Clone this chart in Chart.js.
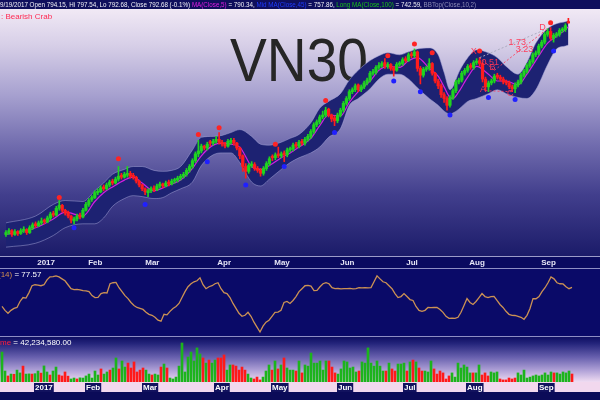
<!DOCTYPE html>
<html>
<head>
<meta charset="utf-8">
<script src="https://cdn.jsdelivr.net/npm/chart.js@4.4.1/dist/chart.umd.min.js"></script>
<style>
html, body { margin:0; padding:0; width:600px; height:400px; overflow:hidden; background:#0c0c58; }
.abs { position:absolute; }
#hdr { left:0; top:0; width:600px; height:9px; background:#0f0f5c; overflow:hidden; z-index:5; }
#hdrText { position:absolute; left:0; top:0; font:8px "Liberation Sans", Arial, sans-serif; line-height:9px; white-space:nowrap; color:#f2f2f8; transform-origin:0 0; }
#mainBg { left:0; top:9px; width:600px; height:247px; background:linear-gradient(to bottom,#f1e9f5 0%,#d6cee7 15%,#a6a0cf 35%,#716cae 55%,#423f8d 75%,#1b1b69 100%); }
#strip { left:0; top:256px; width:600px; height:13px; background:#0a0a60; border-top:1px solid #9c9cc8; border-bottom:1px solid #8e8ec4; box-sizing:border-box; }
#oscBg { left:0; top:269px; width:600px; height:67px; background:#0a0a68; }
#volBg { left:0; top:336px; width:600px; height:46px; background:linear-gradient(to bottom,#0e0e62 0%,#25257c 15%,#6860ae 45%,#b2a3d8 75%,#f0dcf2 100%); border-top:1px solid #8e8ec4; box-sizing:border-box; }
#volAxisBg { left:0; top:382px; width:600px; height:10px; background:#f2d8ee; }
#bottomBg { left:0; top:392px; width:600px; height:8px; background:#0b0b58; }
#vn30 { left:230px; top:29px; font:62px "Liberation Sans", Arial, sans-serif; line-height:62px; color:#262626; transform:scaleX(0.89); transform-origin:0 0; white-space:nowrap; }
#crab { left:1px; top:12px; font:8px "Liberation Sans", Arial, sans-serif; line-height:10px; color:#ff2a52; white-space:nowrap; z-index:4; }
#oscLbl { left:-2px; top:270px; font:8px "Liberation Sans", Arial, sans-serif; line-height:9px; color:#ffffff; white-space:nowrap; z-index:4; }
#volLbl { left:0px; top:338px; font:8px "Liberation Sans", Arial, sans-serif; line-height:9px; color:#ffffff; white-space:nowrap; z-index:4; }
canvas { position:absolute; left:0; z-index:2; }
</style>
</head>
<body>
<div id="mainBg" class="abs"></div>
<div id="vn30" class="abs">VN30</div>
<div id="strip" class="abs"></div>
<div id="oscBg" class="abs"></div>
<div id="volBg" class="abs"></div>
<div id="volAxisBg" class="abs"></div>
<div id="bottomBg" class="abs"></div>
<div id="hdr" class="abs"><div id="hdrText"><span id="h1">9/19/2017 Open 794.15, Hi 797.54, Lo 792.68, Close 792.68 (-0.1%) </span><span style="color:#e21ee2">MA(Close,5)</span><span> = 790.34, </span><span style="color:#1e3cff">Mid MA(Close,45)</span><span> = 757.86, </span><span style="color:#18c418">Long MA(Close,100)</span><span> = 742.59, </span><span style="color:#8c8cb6">BBTop(Close,10,2)</span></div></div>
<div id="crab" class="abs">: Bearish Crab</div>
<div id="oscLbl" class="abs"><span style="color:#d49050">(14)</span> = 77.57</div>
<div id="volLbl" class="abs"><span style="color:#ff2040">me</span> = 42,234,580.00</div>
<canvas id="mainChart" width="600" height="247" style="top:9px"></canvas>
<canvas id="oscChart" width="600" height="80" style="top:256px"></canvas>
<canvas id="volChart" width="600" height="56" style="top:336px"></canvas>
<script>
// ---------- DATA ----------
const openP = [575,577,579,575,578,576,579,580,577,582,
586,584,587,590,588,592,597,595,602,605,
600,598,594,589,591,595,593,600,606,611,
613,618,619,624,622,626,630,628,632,636,
634,636,638,636,634,630,626,622,618,620,
623,621,625,627,625,629,627,630,631,633,
635,637,641,645,651,658,661,666,664,670,
669,671,673,670,668,666,670,672,669,664,
656,645,640,646,647,643,641,638,643,648,
655,654,658,656,659,657,662,663,668,666,
671,669,673,676,681,688,691,696,698,704,
698,695,692,698,703,710,715,722,724,729,
724,727,731,734,741,742,747,749,752,748,
750,746,744,750,751,756,754,761,759,763,
746,739,745,746,751,741,733,728,719,715,
708,716,723,732,734,741,744,749,747,752,
754,751,735,727,731,733,739,737,735,732,
731,727,725,729,732,739,743,749,753,760,
762,769,773,781,784,777,780,781,785,786,
794.15];
const closeP = [577,579,575,578,576,579,580,577,582,585,
584,587,589,588,592,596,595,602,605,600,
597,594,590,591,594,593,600,606,610,613,
618,619,623,622,626,629,628,632,635,634,
637,638,635,634,630,626,622,619,620,622,
621,625,627,625,628,627,630,631,633,635,
637,641,645,651,658,661,666,664,668,669,
671,673,670,668,666,671,672,669,664,656,
645,640,646,647,643,641,638,643,648,653,
654,657,656,658,657,662,663,667,666,670,
669,673,676,681,688,691,696,698,703,698,
694,692,698,703,710,715,722,724,728,724,
727,731,734,741,742,747,749,751,748,750,
746,744,750,751,755,754,760,759,763,746,
739,745,746,751,741,733,728,719,715,708,
716,723,732,734,741,744,748,747,752,753,
751,735,727,731,733,738,737,735,732,731,
727,725,729,732,739,743,749,753,760,762,
769,773,781,784,777,780,781,785,786,790,
792.68];
const highP = [579,581,580,580,579,581,583,581,584,587,
588,589,592,591,594,598,599,604,610,606,
601,599,595,593,596,597,602,608,612,615,
620,622,625,626,628,631,632,634,645,638,
639,645,640,638,635,631,627,623,622,624,
625,627,629,628,630,631,632,633,635,637,
639,643,647,653,660,672,668,667,670,672,
673,676,680,672,670,673,674,674,670,665,
657,648,648,650,649,645,643,645,650,655,
657,659,665,660,661,664,665,669,670,672,
673,675,678,683,690,693,698,702,706,705,
699,697,700,705,712,717,724,726,730,730,
729,733,736,743,745,749,752,753,756,752,
751,748,752,753,757,758,762,763,766,764,
748,747,748,756,752,742,735,730,721,717,
718,725,734,736,743,746,750,751,754,756,
757,752,737,733,735,740,741,739,737,734,
733,729,731,734,741,745,751,755,762,764,
771,775,783,787,788,782,783,787,788,792,
797.54];
const lowP = [573,575,573,574,574,575,577,575,576,580,
582,583,585,586,587,590,593,594,600,598,
595,592,587,586,589,591,592,599,604,609,
612,616,618,620,621,624,626,627,630,632,
633,634,633,632,628,624,620,616,614,618,
619,620,623,623,624,625,626,628,629,631,
633,635,639,643,649,655,659,662,662,666,
667,669,668,666,664,665,668,667,662,653,
640,633,638,644,641,639,635,636,641,646,
651,652,654,654,650,655,660,661,664,664,
667,667,671,674,679,686,689,694,696,696,
691,687,690,696,701,708,713,720,722,722,
722,725,729,732,739,740,745,747,746,746,
744,738,743,748,749,752,753,757,757,743,
730,737,743,744,739,731,725,716,711,703,
706,714,721,730,732,739,742,745,745,750,
748,732,723,722,729,731,735,733,730,729,
725,722,721,727,730,737,741,747,751,758,
760,767,771,779,775,773,778,779,783,784,
792.68];
// volume, millions of shares
const volumeM = [158,58,32,42,41,63,48,84,42,43,
42,44,58,47,85,53,37,58,79,37,
32,53,31,16,21,16,22,21,32,42,
21,58,37,69,42,53,63,74,127,69,
111,79,100,74,106,53,63,74,63,42,
37,42,37,79,95,74,21,16,26,84,
206,53,132,158,111,180,148,127,100,116,
100,116,127,127,143,63,90,90,84,63,
79,63,42,21,16,26,11,26,58,90,
63,111,69,90,127,74,63,63,58,111,
48,90,84,153,100,100,111,63,111,111,
79,48,42,69,111,106,74,79,53,58,
106,100,180,100,84,111,84,58,58,100,
69,58,95,95,100,58,106,116,106,74,
58,58,53,111,69,42,58,48,16,32,
48,26,100,74,90,79,48,48,48,90,
37,48,32,53,48,53,16,11,11,21,
16,21,48,37,63,21,26,32,37,32,
37,48,37,53,48,48,42,53,48,58,
42.23];
// oscillator (14)
const oscVals = [48.8,42.9,38.4,42.9,45.8,47.3,56.3,62.2,61.5,69.7,
80.1,81.6,81.0,80.1,81.6,89.0,93.5,94.0,95.0,93.5,
90.5,87.6,81.6,75.6,74.1,74.5,73.8,72.7,72.2,71.2,
65.2,62.2,62.5,68.2,69.7,69.2,83.1,84.6,85.2,77.1,
71.2,65.2,60.7,54.8,50.3,47.3,45.8,44.3,39.9,36.9,
35.4,32.4,28.0,26.5,36.9,36.0,41.4,45.8,48.8,53.3,
62.2,71.2,78.6,83.1,86.1,87.6,92.0,81.6,75.6,78.6,
80.1,83.1,84.6,75.6,69.7,68.2,62.2,53.3,45.8,38.4,
33.9,35.4,39.9,33.9,25.0,17.5,10.1,19.0,25.0,28.0,
33.9,39.9,40.3,42.9,54.8,56.3,53.3,57.8,63.7,71.2,
75.6,80.1,80.6,79.5,72.7,73.1,78.6,83.1,84.6,83.1,
77.1,75.6,75.9,75.4,75.8,75.6,76.0,75.5,75.7,77.1,
76.8,77.3,77.0,77.2,86.1,95.0,90.5,86.1,84.6,80.1,
75.6,68.2,62.2,63.7,68.2,63.7,59.2,57.8,48.8,42.9,
41.4,42.9,47.3,47.0,47.5,47.2,44.3,39.9,33.9,30.9,
31.2,30.7,32.4,39.9,50.3,60.7,54.8,51.8,56.3,62.2,
68.2,63.7,62.2,63.7,64.1,57.8,51.8,47.3,41.4,36.9,
35.4,35.1,33.9,32.4,29.4,35.4,45.8,60.7,60.4,63.7,
71.2,77.1,84.6,93.5,90.5,84.6,83.1,82.8,78.6,75.6,
77.57];
// envelope / moving average, sampled at these bar numbers
const bandIdx = [0,10,16,20,26,30,33,36,40,43,46,50,53,56,59,63,66,70,73,76,79,83,86,89,93,96,99,103,106,109,113,116,119,123,126,129,133,136,139,143,146,148,150,151,153,156,159,163,166,169,173,176,179,183,186,189,190];
const bbTopVals = [587,594,606,610,609,620,628,637,642,645,645,641,640,641,645,662,675,676,677,680,683,676,668,667,670,674,678,690,705,712,720,734,744,754,759,762,760,763,766,767,760,742,724,727,742,757,765,762,757,748,740,752,772,787,792,794,795];
const bbBotVals = [562,566,574,582,586,586,592,604,612,615,614,612,613,618,622,629,646,657,659,659,649,629,625,632,642,649,654,659,665,675,684,708,715,725,735,740,740,735,726,715,708,702,699,700,704,712,715,720,724,720,716,715,724,750,766,769,770];
const maVals = [575,582,591,598,594,609,618,624,631,634,628,620,623,627,631,643,656,667,669,668,665,645,642,646,654,659,665,674,687,698,697,711,722,733,744,748,747,754,757,746,738,727,716,715,722,737,748,740,733,733,729,740,754,772,779,786,789];
// fractal markers
const fracHighIdx = [18,38,65,72,91,108,129,138,144,160,184];
const fracHighVal = [613,653,678,685,668,713,759,771,762,764,793];
const fracLowIdx = [23,47,68,81,94,111,131,140,150,163,172,185];
const fracLowVal = [582,606,650,626,645,680,733,722,698,716,714,764];
// month ticks
const monthTickIdx = [11,28,47,71,90,112,134,155,179];
const monthTickLabels = ['2017','Feb','Mar','Apr','May','Jun','Jul','Aug','Sep'];
// harmonic pattern (X, A, B, C, D)
const patternPtIdx = [160,162,165,171,183];
const patternPtVal = [757,723,744,722,787];
const patternLegs = [[0,4,'gray'],[2,4,'red'],[1,3,'red'],[0,2,'red']];
const patternLabelText = ['X','A','B','C','D','0.51','1.73','3.23'];
const patternLabelIdx = [158.0,161.2,164.4,170.4,181.3,163.6,172.7,175.2];
const patternLabelVal = [763,724,747,720,788,752,773,765];

// ---------- CHARTS ----------
Chart.defaults.animation = false;
Chart.defaults.font.family = '"Liberation Sans", Arial, sans-serif';
Chart.defaults.plugins.legend.display = false;
Chart.defaults.plugins.tooltip.enabled = false;

const X_MIN = -0.667, X_MAX = 199.333;
const barIdx = closeP.map((_, i) => i);
const upCol = '#1fd41f', downCol = '#ff1c1c';
const candleCols = barIdx.map(i => closeP[i] >= openP[i] ? upCol : downCol);
const volCols = barIdx.map(i => closeP[i] >= openP[i] ? '#1cb41c' : '#ff1a1a');

const pts = (idx, vals) => idx.map((x, k) => ({x, y: vals[k]}));

const patternDatasets = patternLegs.map(([a, b, c]) => ({
  type:'line',
  data:[{x:patternPtIdx[a], y:patternPtVal[a]}, {x:patternPtIdx[b], y:patternPtVal[b]}],
  borderColor: c === 'gray' ? 'rgba(170,170,190,0.95)' : 'rgba(255,60,90,0.85)',
  borderWidth:1, borderDash:[2,2], pointRadius:0, order:0.5
}));

const patternLabelPlugin = {
  id:'patternLabels',
  afterDatasetsDraw(chart) {
    const {ctx, scales:{x, y}} = chart;
    ctx.save();
    ctx.font = '9px "Liberation Sans", Arial, sans-serif';
    ctx.fillStyle = 'rgba(255,55,85,0.95)';
    ctx.textAlign = 'center';
    ctx.textBaseline = 'middle';
    patternLabelText.forEach((t, k) => ctx.fillText(t, x.getPixelForValue(patternLabelIdx[k]), y.getPixelForValue(patternLabelVal[k])));
    ctx.restore();
  }
};

new Chart(document.getElementById('mainChart'), {
  type:'bar',
  data:{ datasets:[
    {type:'line', data:pts(bandIdx, bbTopVals), borderColor:'rgba(165,165,215,0.5)', borderWidth:1, pointRadius:0, cubicInterpolationMode:'monotone', fill:'+1', backgroundColor:'#1d2272', order:10},
    {type:'line', data:pts(bandIdx, bbBotVals), borderColor:'rgba(165,165,215,0.5)', borderWidth:1, pointRadius:0, cubicInterpolationMode:'monotone', fill:false, order:9},
    {type:'line', data:pts(bandIdx, maVals), borderColor:'#d21ee0', borderWidth:1.2, pointRadius:0, cubicInterpolationMode:'monotone', fill:false, order:3},
    {type:'bar', data:barIdx.map(i => ({x:i, y:[lowP[i], highP[i]]})), backgroundColor:candleCols, barThickness:1, grouped:false, order:2},
    {type:'bar', data:barIdx.map(i => ({x:i, y:[openP[i], closeP[i]]})), backgroundColor:candleCols, barThickness:2.6, minBarLength:1.5, grouped:false, order:1},
    ...patternDatasets,
    {type:'line', data:pts(fracHighIdx, fracHighVal), showLine:false, pointRadius:2.5, pointBackgroundColor:'#ff2424', pointBorderWidth:0, order:0},
    {type:'line', data:pts(fracLowIdx, fracLowVal), showLine:false, pointRadius:2.5, pointBackgroundColor:'#2020ff', pointBorderWidth:0, order:0}
  ]},
  options:{
    responsive:false, layout:{padding:0},
    scales:{
      x:{type:'linear', min:X_MIN, max:X_MAX, offset:false, display:false},
      y:{type:'linear', min:557, max:803, display:false}
    }
  },
  plugins:[patternLabelPlugin]
});

const monthAxis = (position, height, extra) => Object.assign({
  type:'linear', position, min:X_MIN, max:X_MAX, offset:false,
  afterBuildTicks: s => { s.ticks = monthTickIdx.map(v => ({value:v})); },
  afterFit: s => { s.height = height; },
  border:{display:false},
  grid:{display:false, drawTicks:false}
}, extra);

new Chart(document.getElementById('oscChart'), {
  type:'line',
  data:{ datasets:[
    {data:barIdx.map(i => ({x:i, y:oscVals[i]})), borderColor:'#cc9254', borderWidth:1.3, pointRadius:0, tension:0, fill:false}
  ]},
  options:{
    responsive:false, layout:{padding:0},
    scales:{
      x: monthAxis('top', 13, {ticks:{autoSkip:false, maxRotation:0, minRotation:0, align:'start', padding:1, color:'#e6e6f6',
          font:{size:8, weight:'bold'}, callback:v => ' ' + monthTickLabels[monthTickIdx.indexOf(v)]}}),
      y:{type:'linear', min:4.1, max:105.4, display:false}
    }
  }
});

new Chart(document.getElementById('volChart'), {
  type:'bar',
  data:{ datasets:[
    {data:barIdx.map(i => ({x:i, y:volumeM[i]})), backgroundColor:volCols, barThickness:2, grouped:false}
  ]},
  options:{
    responsive:false, layout:{padding:0},
    scales:{
      x: monthAxis('bottom', 10, {ticks:{autoSkip:false, maxRotation:0, minRotation:0, align:'start', padding:1, color:'#ffffff',
          showLabelBackdrop:true, backdropColor:'#12125e', backdropPadding:{left:1, right:1, top:0, bottom:0},
          font:{size:8, weight:'bold'}, callback:v => monthTickLabels[monthTickIdx.indexOf(v)]}}),
      y:{type:'linear', min:0, max:243, display:false}
    }
  }
});

// fit header text width like the reference
const hdr = document.getElementById('hdrText');
const w1 = document.getElementById('h1').getBoundingClientRect().width;
hdr.style.transform = 'scaleX(' + (192 / w1).toFixed(3) + ')';
</script>
</body>
</html>
